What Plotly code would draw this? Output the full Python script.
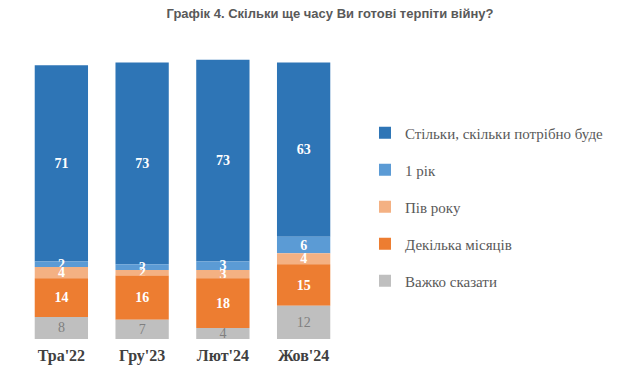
import numpy as np
import plotly.graph_objects as go

categories = ["Тра'22", "Гру'23", "Лют'24", "Жов'24"]
series_names = ["Важко сказати", "Декілька місяців", "Пів року", "1 рік", "Стільки, скільки потрібно буде"]
hard_to_say = [8, 7, 4, 12]
few_months = [14, 16, 18, 15]
half_year = [4, 2, 3, 4]
one_year = [2, 2, 3, 6]
as_long = [71, 73, 73, 63]

values = [hard_to_say, few_months, half_year, one_year, as_long]
colors = ["#BFBFBF", "#ED7D31", "#F4B183", "#5B9BD5", "#2E75B6"]
text_colors = ["#7F7F7F", "white", "white", "white", "white"]
legend_ranks = [5, 4, 3, 2, 1]
SERIF = "Liberation Serif, DejaVu Serif, Times New Roman, serif"

# stacking bases computed from the data (bottom series first)
bases = np.vstack([np.zeros(len(categories))] + [np.cumsum(np.array(values), axis=0)[:-1]])

fig = go.Figure()
# add top segments first so that labels of lower segments are drawn above neighbouring bars
for i in reversed(range(len(series_names))):
    vals = values[i]
    bold = i > 0
    fig.add_trace(go.Bar(
        x=categories, y=vals, base=bases[i], name=series_names[i],
        marker=dict(color=colors[i], line=dict(width=0)),
        text=[f"<b>{v}</b>" if bold else str(v) for v in vals],
        textposition="inside", insidetextanchor="middle", textangle=0,
        textfont=dict(family=SERIF, size=14, color=text_colors[i]),
        legendgroup=f"g{i}", legendrank=legend_ranks[i],
        hoverinfo="skip",
    ))

fig.update_layout(
    barmode="overlay",
    bargap=0.34,
    width=615, height=383,
    margin=dict(l=13.3, r=278.9, t=48.8, b=51.7, autoexpand=False),
    paper_bgcolor="white", plot_bgcolor="white",
    uniformtext=dict(minsize=14, mode="show"),
    font=dict(family=SERIF),
    title=dict(text="<b>Графік 4. Скільки ще часу Ви готові терпіти війну?</b>",
               x=0.5236, xref="container", xanchor="center", y=0.998, yref="container", yanchor="top",
               font=dict(family="Liberation Sans, Arial, sans-serif", size=13, color="#595959")),
    xaxis=dict(type="category", range=[-0.5, 3.5], showline=False, ticks="",
               ticklabelstandoff=5,
               tickfont=dict(family=SERIF, size=16, color="#404040"),
               tickprefix="<b>", ticksuffix="</b>"),
    yaxis=dict(range=[0, 102], visible=False),
    legend=dict(x=1.065, xanchor="left", y=0.468, yanchor="middle",
                traceorder="grouped", tracegroupgap=14.5,
                font=dict(family=SERIF, size=15, color="#595959"),
                itemwidth=30),
    showlegend=True,
)
fig.write_html("out.html")
